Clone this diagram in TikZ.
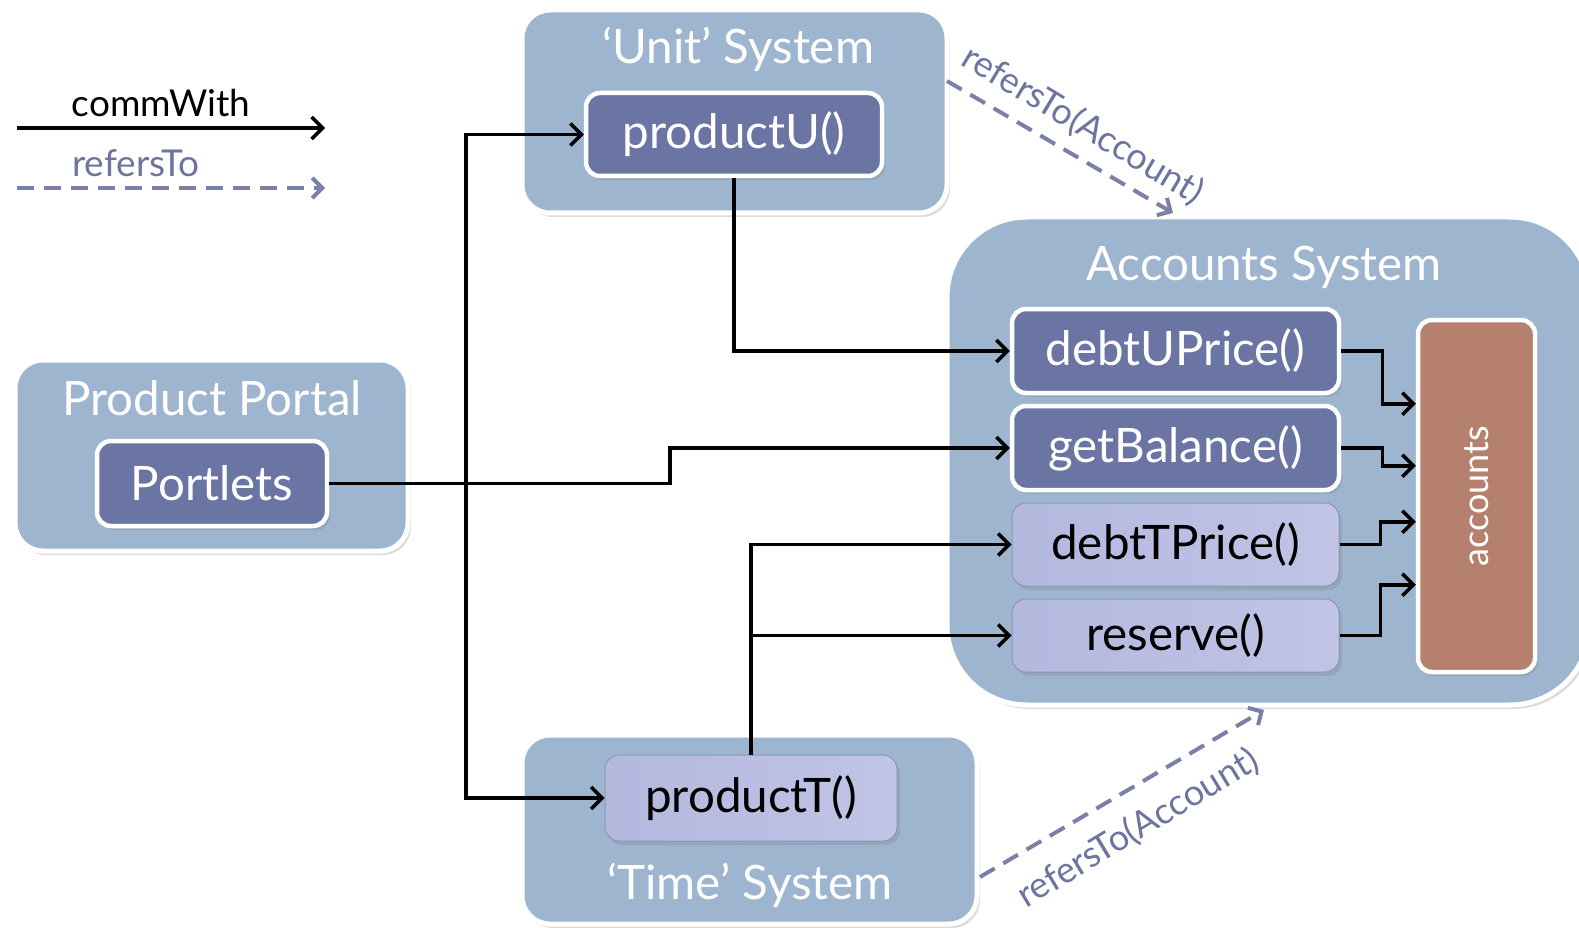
\documentclass[tikz,border=0pt]{standalone}
\usepackage{fontspec}
\setmainfont{Lato}
\usetikzlibrary{arrows.meta,shadows}

\definecolor{sysblue}{HTML}{9DB5CE}
\definecolor{opdark}{HTML}{6B75A3}
\definecolor{oplightA}{HTML}{B3B8DE}
\definecolor{oplightB}{HTML}{C0C4E6}
\definecolor{oplightline}{HTML}{8F94BA}
\definecolor{acccol}{HTML}{B5806E}
\definecolor{refcol}{HTML}{7A80A8}
\definecolor{reftext}{HTML}{6E74A0}

\newcommand{\bigtxt}{\fontsize{47.5}{52}\selectfont}
\newcommand{\midtxt}{\fontsize{36}{42}\selectfont}
\newcommand{\legendtxt}{\fontsize{37}{42}\selectfont}

\tikzset{
  softshadow/.style={drop shadow={opacity=0.28, shadow xshift=3pt, shadow yshift=-4pt}},
  sysbox/.style={draw=white, line width=5pt, fill=sysblue, rounded corners=28pt,
    inner sep=0pt, softshadow},
  systitle/.style={text=white, font=\bigtxt, inner sep=0pt},
  opdarkbox/.style={draw=white, line width=4.5pt, fill=opdark, rounded corners=14pt,
    text=white, font=\bigtxt, inner sep=0pt, softshadow},
  oplightbox/.style={draw=oplightline, line width=1pt, left color=oplightA, right color=oplightB,
    rounded corners=14pt, text=black, font=\bigtxt, inner sep=0pt, softshadow},
  storebox/.style={draw=white, line width=4.5pt, fill=acccol, rounded corners=14pt,
    inner sep=0pt, softshadow},
  comm/.style={black, line width=3.5pt, line join=miter,
    -{Straight Barb[length=11pt,width=22pt]}},
  ref/.style={refcol, line width=4pt, dash pattern=on 17pt off 10pt,
    -{Straight Barb[length=10pt,width=20pt]}},
  reflabel/.style={text=reftext, font=\midtxt, inner sep=0pt},
}

\begin{document}
\begin{tikzpicture}[x=1pt,y=-1pt]
\useasboundingbox (0,0) rectangle (1579,928);
\fill[white] (0,0) rectangle (1579,928);

% legend
\node[font=\legendtxt, inner sep=0pt] (lgc) at (161,103) {commWith};
\coordinate (lgcs) at (17,128);
\coordinate (lgce) at (325,128);
\draw[comm] (lgcs) -- (lgce);
\node[font=\legendtxt, text=reftext, inner sep=0pt] (lgr) at (136,163) {refersTo};
\coordinate (lgrs) at (17,188);
\coordinate (lgre) at (325,188);
\draw[ref] (lgrs) -- (lgre);

% systems
\node[sysbox, minimum width=425pt, minimum height=203pt] (us) at (734.5,111.5) {};
\node[sysbox, minimum width=393pt, minimum height=191pt] (pp) at (211.5,455.5) {};
\node[sysbox, rounded corners=80pt, minimum width=643pt, minimum height=488pt] (as) at (1268.5,461) {};
\node[sysbox, minimum width=455pt, minimum height=189pt] (ts) at (749.5,829.5) {};

\node[systitle] (ust) at (738,49) {‘Unit’ System};
\node[systitle] (ppt) at (212,398) {Product Portal};
\node[systitle] (ast) at (1264,267) {Accounts System};
\node[systitle] (tst) at (750,885) {‘Time’ System};

% operations
\node[opdarkbox, minimum width=296pt, minimum height=83pt] (pu) at (734,134.5) {productU()};
\node[opdarkbox, minimum width=230pt, minimum height=85pt] (pl) at (212,483.5) {Portlets};
\node[opdarkbox, minimum width=327pt, minimum height=84pt] (du) at (1175.5,351) {debtUPrice()};
\node[opdarkbox, minimum width=327pt, minimum height=84pt] (gb) at (1175.5,448) {getBalance()};
\node[oplightbox, minimum width=327pt, minimum height=83pt] (dt) at (1175.5,544.5) {debtTPrice()};
\node[oplightbox, minimum width=327pt, minimum height=73pt] (rs) at (1175.5,635.5) {reserve()};
\node[oplightbox, minimum width=292pt, minimum height=86pt] (pt) at (751,798) {productT()};

% account store
\node[storebox, minimum width=117pt, minimum height=352pt] (acc) at (1476.5,496) {};
\node[text=white, font=\midtxt, rotate=90, inner sep=0pt] (acct) at (acc.center) {accounts};

% commWith connectors
\coordinate (trunk) at (466,483.5);
\coordinate (jog) at (670,448);
\draw[comm] (pl.east) -- (trunk) |- (pu.west);
\draw[comm] (trunk) |- (pt.west);
\draw[comm] (pl.east) -- (pl.east -| jog) |- (gb.west);
\draw[comm] (pu.south) |- (du.west);
\draw[comm] (pt.north) |- (dt.west);
\draw[comm] (pt.north |- rs.west) -- (rs.west);

\path (acc.north west) ++(0,86) coordinate (a1) ++(0,62) coordinate (a2)
      ++(0,56) coordinate (a3) ++(0,63) coordinate (a4);
\draw[comm] (du.east) -- ++(41,0) |- (a1);
\draw[comm] (gb.east) -- ++(41,0) |- (a2);
\draw[comm] (dt.east) -- ++(41,0) |- (a3);
\draw[comm] (rs.east) -- ++(41,0) |- (a4);

% refersTo connectors
\coordinate (r1s) at (947,81);
\coordinate (r1e) at (1173,213);
\draw[ref] (r1s) -- (r1e);
\node[reflabel, rotate=-31] (r1l) at (1083,125) {refersTo(Account)};
\coordinate (r2s) at (980,877);
\coordinate (r2e) at (1264,710);
\draw[ref] (r2s) -- (r2e);
\node[reflabel, rotate=31] (r2l) at (1138,828) {refersTo(Account)};
\end{tikzpicture}
\end{document}
